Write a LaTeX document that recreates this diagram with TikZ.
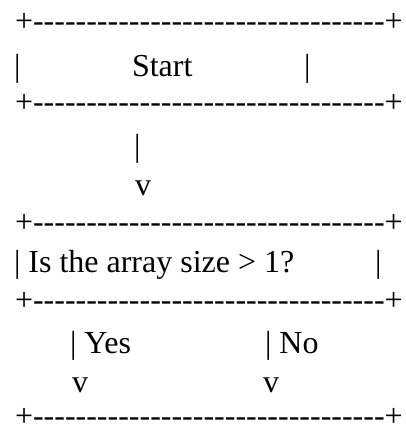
\documentclass[tikz,border=0pt]{standalone}
\usepackage{fontspec}
\newfontfamily\asc{Liberation Serif}
\newcommand\rowline{+{-}{-}{-}{-}{-}{-}{-}{-}{-}{-}{-}{-}{-}{-}{-}{-}{-}{-}{-}{-}{-}{-}{-}{-}{-}{-}{-}{-}{-}{-}{-}{-}{-}+}
\tikzset{
  txt/.style={anchor=base west, inner sep=0pt, outer sep=0pt, font=\asc\fontsize{24pt}{28pt}\selectfont}
}
\begin{document}
\begin{tikzpicture}[x=0.75pt,y=-0.75pt]
\useasboundingbox (0,0) rectangle (405,428);
% line 1
\node[txt] (r1) at (15,32) {\rowline};
% line 2
\node[txt] (b2l) at (14,77) {|};
\node[txt] (start) at (132,77) {Start};
\node[txt] (b2r) at (304,77) {|};
% line 3
\node[txt] (r3) at (15,113) {\rowline};
% line 4, 5
\node[txt] (b4) at (134,156) {|};
\node[txt] (v5) at (135,195) {v};
% line 6
\node[txt] (r6) at (15,232) {\rowline};
% line 7
\node[txt] (q) at (14,272) {| Is the array size > 1?};
\node[txt] (b7r) at (375,272) {|};
% line 8
\node[txt] (r8) at (15,310) {\rowline};
% line 9
\node[txt] (yes) at (70,353) {| Yes};
\node[txt] (no) at (265,353) {| No};
% line 10
\node[txt] (v10a) at (72,392) {v};
\node[txt] (v10b) at (263,392) {v};
% line 11
\node[txt] (r11) at (15,426) {\rowline};
\end{tikzpicture}
\end{document}
